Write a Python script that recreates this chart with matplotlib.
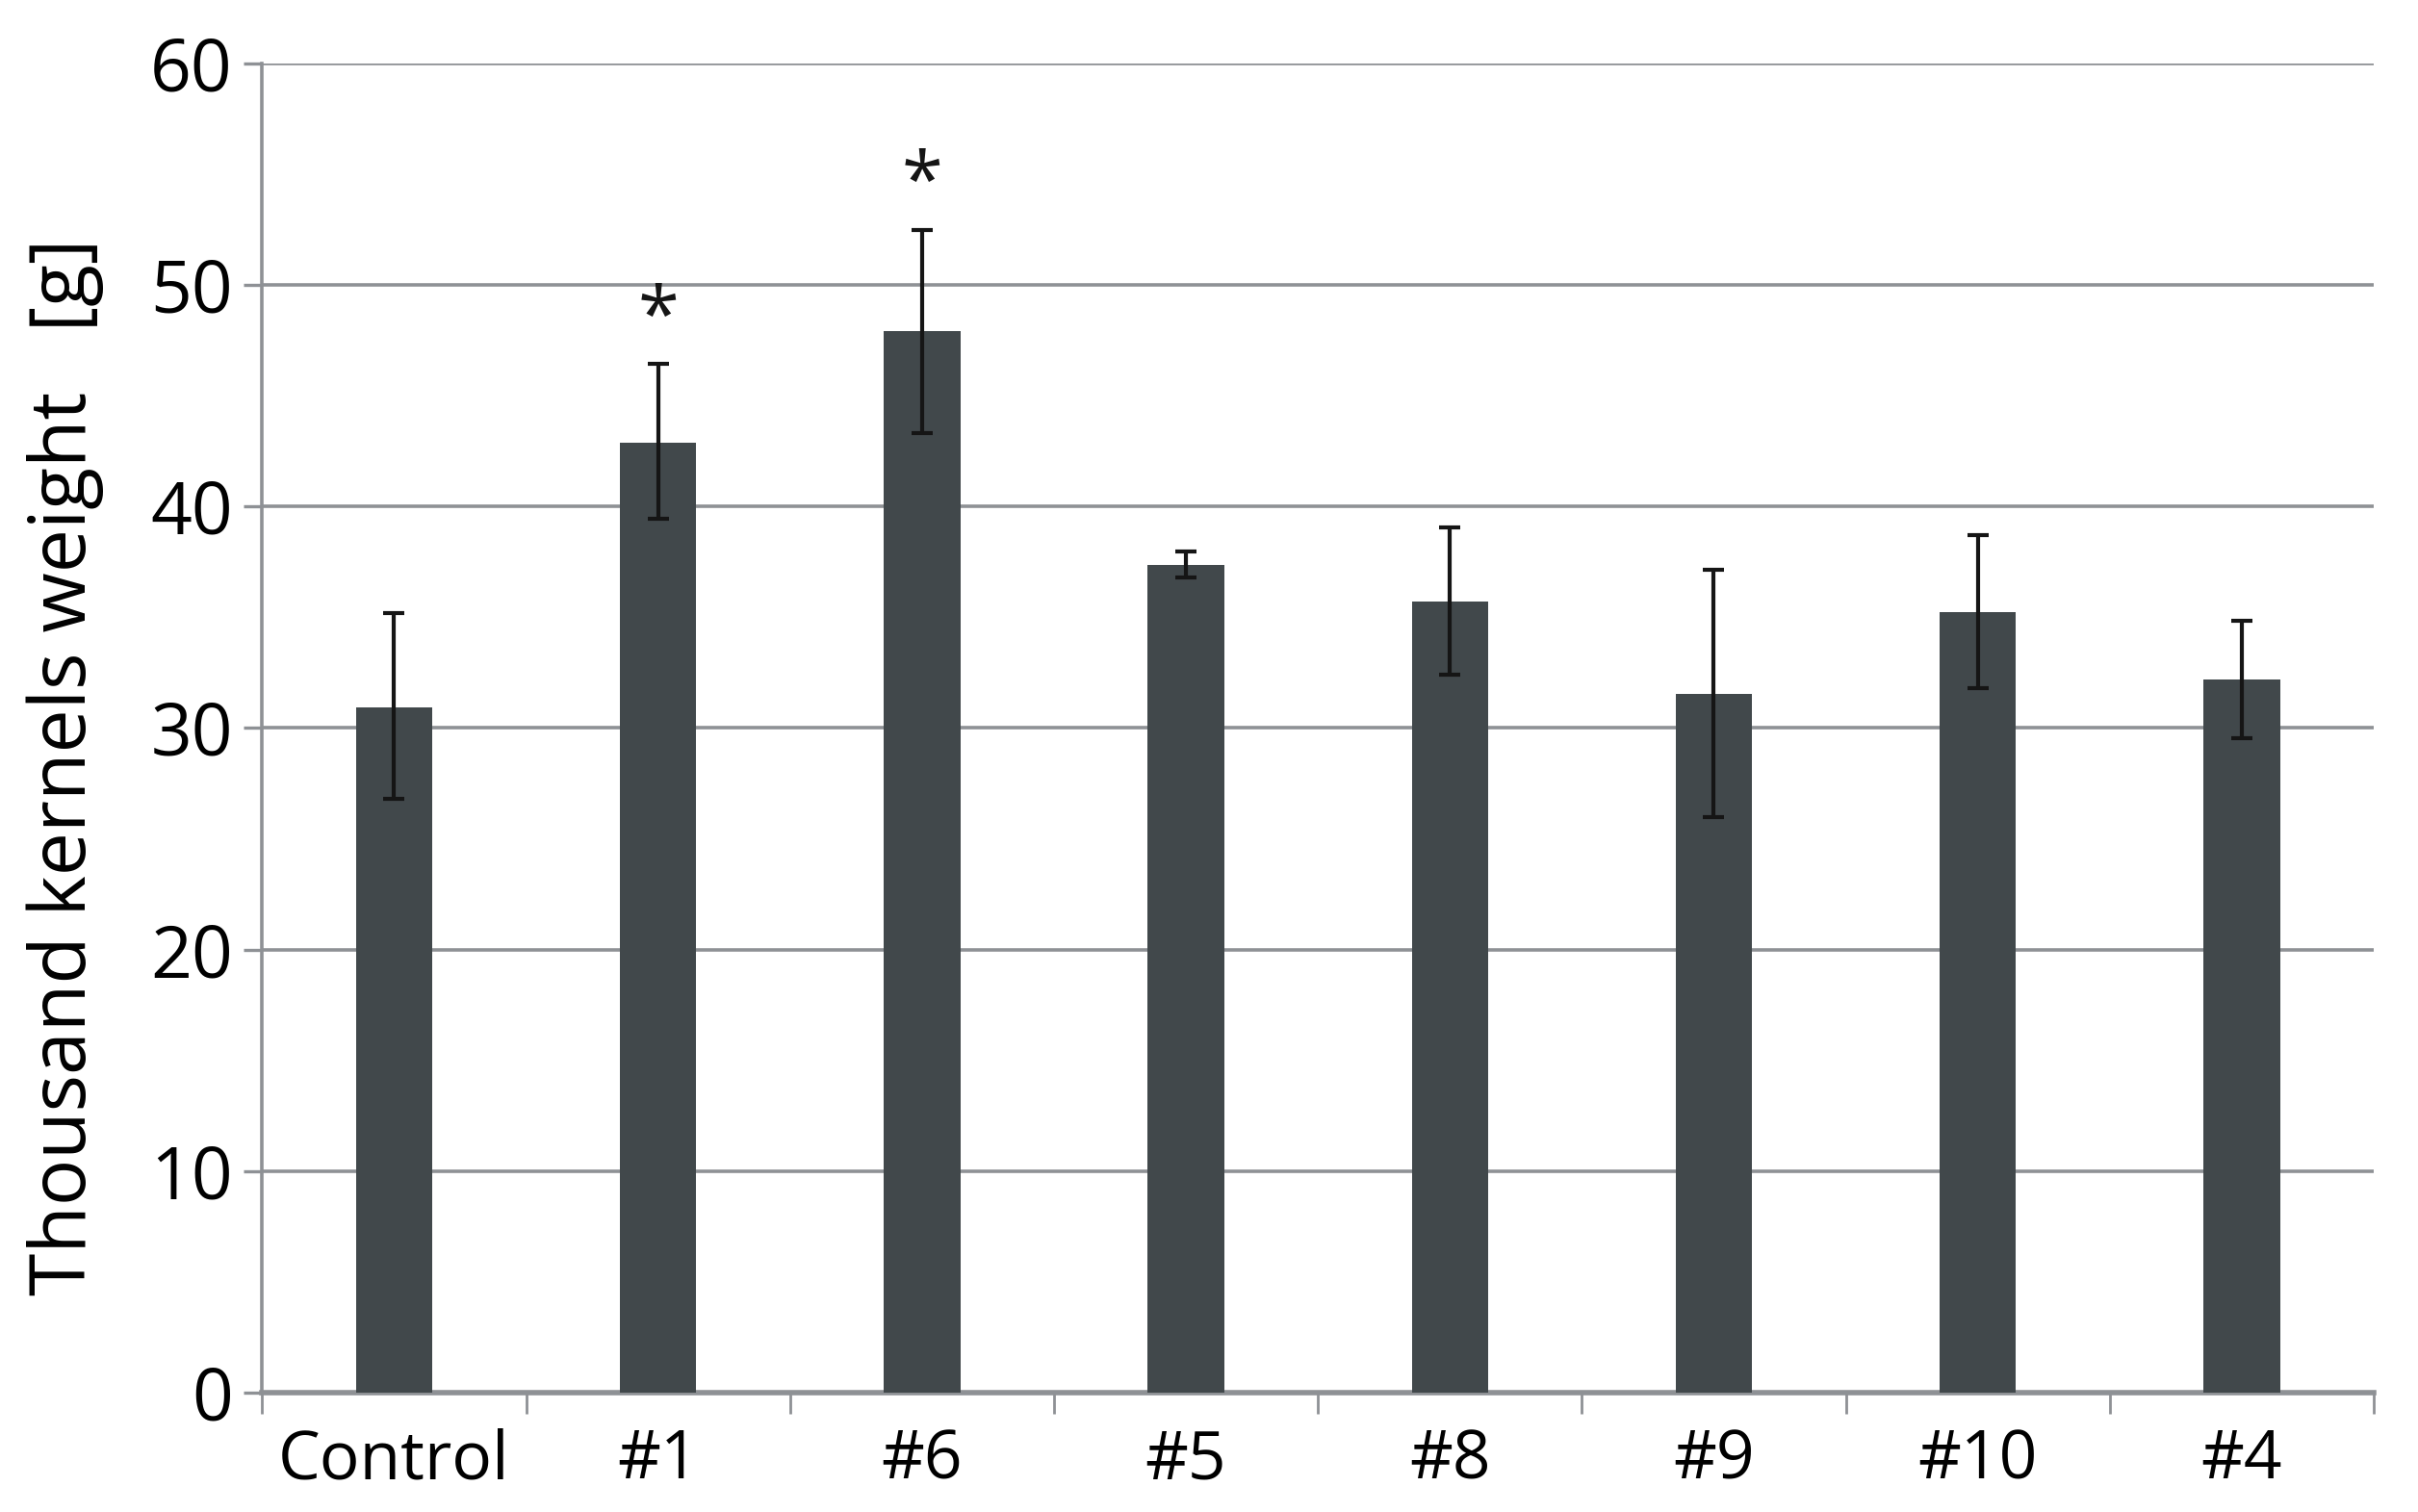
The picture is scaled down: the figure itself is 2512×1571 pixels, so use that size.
import matplotlib
matplotlib.use("Agg")
import matplotlib.pyplot as plt
import numpy as np

lines = ["Control", "#1", "#6", "#5", "#8", "#9", "#10", "#4"]
tkw = [30.95, 42.9, 47.9, 37.37, 35.69, 31.54, 35.23, 32.19]
err_low = [4.15, 3.45, 4.57, 0.58, 3.29, 5.57, 3.43, 2.63]
err_high = [4.23, 3.53, 4.6, 0.6, 3.37, 5.62, 3.5, 2.66]
signif = ["", "*", "*", "", "", "", "", ""]

plt.rcParams["font.family"] = ["Open Sans", "DejaVu Sans"]

grid_col = "#8e9195"
bar_col = "#41484b"

fig = plt.figure(figsize=(25.12, 15.71), dpi=100)
ax = fig.add_axes([0.1084, 0.079, 0.8733, 0.879])

x = np.arange(len(lines))
ax.bar(x, tkw, 0.29, color=bar_col, zorder=3,
       yerr=[err_low, err_high], capsize=8,
       error_kw=dict(ecolor="#151515", elinewidth=3, capthick=3, zorder=4))

for i in range(len(lines)):
    if signif[i]:
        ax.annotate(signif[i], xy=(x[i], tkw[i] + err_high[i]),
                    xytext=(0, 4), textcoords="offset points",
                    ha="center", va="bottom", fontsize=56, color="#151515")

ax.set_xlim(-0.5, len(lines) - 0.5)
ax.set_ylim(0, 60)
ax.set_yticks(np.arange(0, 61, 10))
ax.yaxis.grid(True, color=grid_col, linewidth=2.6, zorder=0)
ax.set_axisbelow(True)

ax.set_xticks(x)
ax.set_xticklabels(lines)
ax.set_xticks(np.arange(-0.5, len(lines)), minor=True)
ax.tick_params(axis="x", which="major", length=0, pad=26, labelsize=50)
ax.tick_params(axis="x", which="minor", length=16, width=2, color=grid_col)
ax.tick_params(axis="y", length=14, width=2.4, color=grid_col, pad=8, labelsize=54)

for s in ["top", "right"]:
    ax.spines[s].set_visible(False)
ax.spines["left"].set_color(grid_col)
ax.spines["left"].set_linewidth(2.6)
ax.spines["bottom"].set_color(grid_col)
ax.spines["bottom"].set_linewidth(4)

ax.set_ylabel("Thousand kernels weight   [g]", fontsize=58)
ax.yaxis.set_label_coords(-0.075, 0.471)

fig.savefig("out.png", dpi=100)
